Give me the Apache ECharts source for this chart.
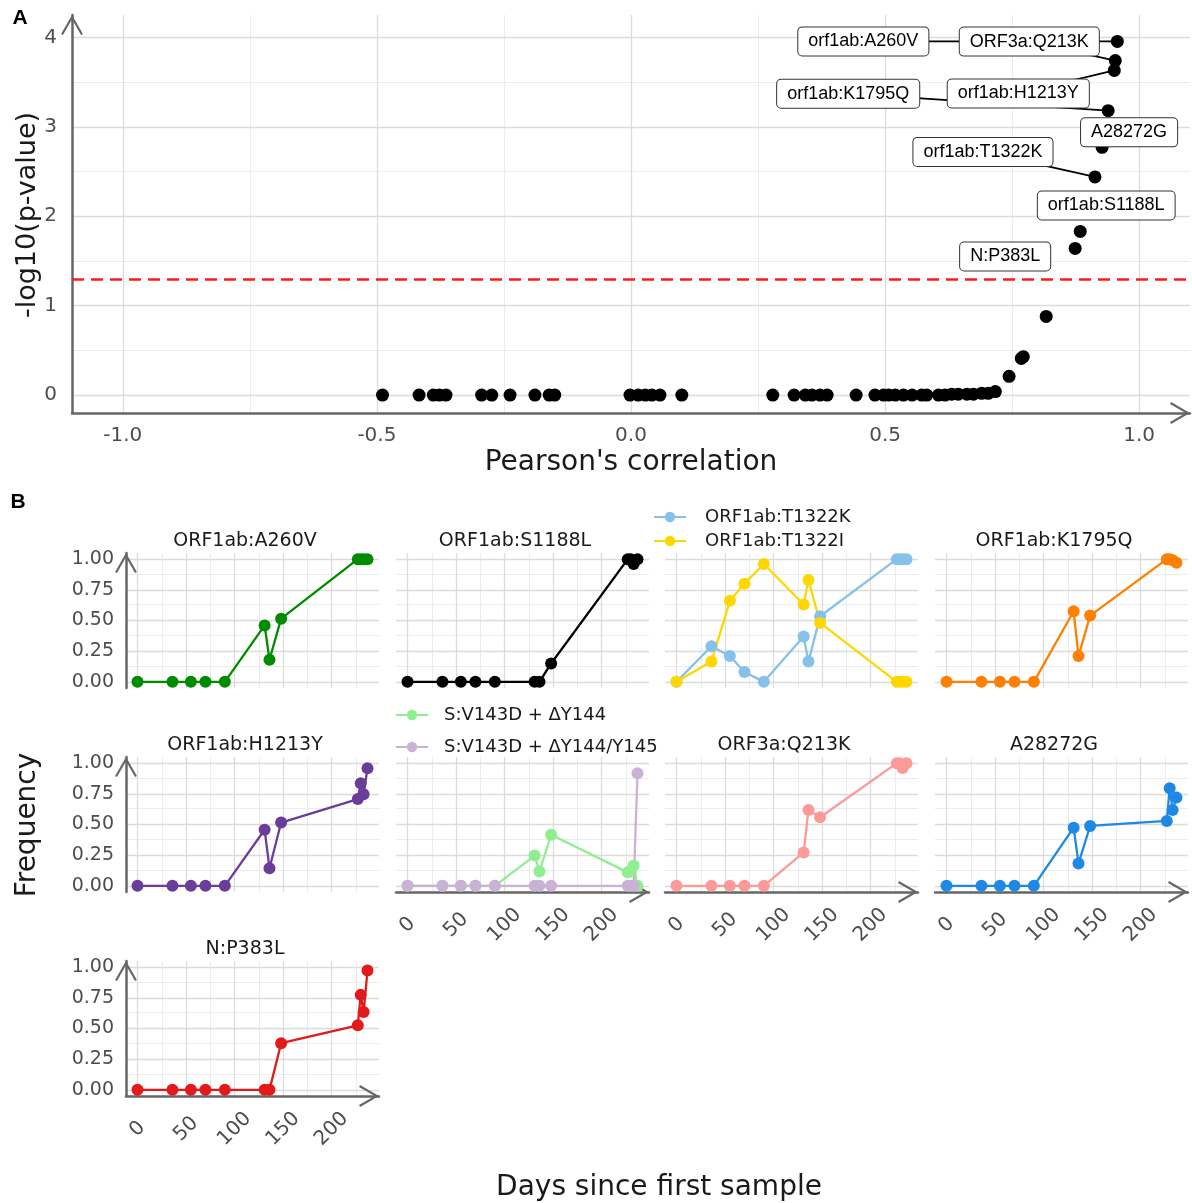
<!DOCTYPE html>
<html>
<head>
<meta charset="utf-8">
<script src="https://cdn.jsdelivr.net/npm/echarts@6/dist/echarts.min.js"></script>
<style>
  html, body { margin: 0; padding: 0; background: #ffffff; }
  #main { width: 1192px; height: 1203px; }
</style>
</head>
<body>
<div id="main"></div>
<script>
// ---------------- Panel A: correlation of frequency with time ----------------
// Mutations that stay below the significance threshold
const backgroundR = [
  -0.489, -0.417, -0.389, -0.377, -0.364, -0.294, -0.274, -0.238, -0.189, -0.161, -0.150,
  -0.002, 0.014, 0.028, 0.041, 0.057, 0.100,
  0.279, 0.321, 0.343, 0.356, 0.372, 0.386, 0.443, 0.480, 0.497, 0.507, 0.520, 0.536, 0.553, 0.572, 0.582,
  0.605, 0.618, 0.631, 0.644, 0.661, 0.674, 0.690, 0.703, 0.717, 0.744, 0.768, 0.772, 0.817
];
const backgroundLogP = [
  0, 0, 0, 0, 0, 0, 0, 0, 0, 0, 0,
  0, 0, 0, 0, 0, 0,
  0, 0, 0, 0, 0, 0, 0, 0, 0, 0, 0, 0, 0, 0, 0,
  0, 0, 0.01, 0.01, 0.01, 0.01, 0.02, 0.02, 0.04, 0.21, 0.41, 0.43, 0.88
];
// Significant mutations (labelled)
const sigNames = ['orf1ab:A260V', 'ORF3a:Q213K', 'orf1ab:H1213Y', 'orf1ab:K1795Q',
                  'A28272G', 'orf1ab:T1322K', 'orf1ab:S1188L', 'N:P383L'];
const sigR = [0.957, 0.953, 0.951, 0.939, 0.927, 0.913, 0.884, 0.874];
const sigLogP = [3.955, 3.74, 3.63, 3.18, 2.77, 2.44, 1.83, 1.64];
const pThreshold = 0.05;
const corrTicks = [-1, -0.5, 0, 0.5, 1];
const logPTicks = [0, 1, 2, 3, 4];

// ---------------- Panel B: frequency trajectories ----------------
const sampleDays = [0, 36, 55, 70, 90, 131, 136, 148, 227, 230, 233, 237];
const freqA260V     = [0, 0, 0, 0, 0, 0.46, 0.18, 0.515, 1, 1, 1, 1];
const freqS1188L    = [0, 0, 0, 0, 0, 0, 0, 0.15, 1, 1, 0.96, 1];
const freqT1322K    = [0, 0.29, 0.21, 0.08, 0, 0.37, 0.165, 0.535, 1, 1, 1, 1];
const freqT1322I    = [0, 0.165, 0.66, 0.80, 0.96, 0.63, 0.83, 0.48, 0, 0, 0, 0];
const freqK1795Q    = [0, 0, 0, 0, 0, 0.575, 0.21, 0.54, 1, 1, 0.99, 0.97];
const freqH1213Y    = [0, 0, 0, 0, 0, 0.457, 0.144, 0.516, 0.707, 0.837, 0.747, 0.959];
const freqDelY144   = [0, 0, 0, 0, 0, 0.247, 0.117, 0.416, 0.11, 0.12, 0.165, 0];
const freqDelY144Y145 = [0, 0, 0, 0, 0, 0, 0, 0, 0, 0, 0, 0.918];
const freqQ213K     = [0, 0, 0, 0, 0, 0.272, 0.619, 0.559, 1, 1, 0.96, 1];
const freqA28272G   = [0, 0, 0, 0, 0, 0.474, 0.183, 0.488, 0.529, 0.796, 0.619, 0.719];
const freqP383L     = [0, 0, 0, 0, 0, 0, 0, 0.38, 0.526, 0.774, 0.634, 0.972];
const dayTicks = [0, 50, 100, 150, 200];
const dayMinorTicks = [25, 75, 125, 175, 225];
const freqTicks = [0, 0.25, 0.5, 0.75, 1];
const freqMinorTicks = [0.125, 0.375, 0.625, 0.875];

// Facet contents: title, and the series drawn in each panel
const facets = [
  { title: 'ORF1ab:A260V',  lines: [['ORF1ab:A260V', freqA260V]] },
  { title: 'ORF1ab:S1188L', lines: [['ORF1ab:S1188L', freqS1188L]] },
  { title: null,            lines: [['ORF1ab:T1322K', freqT1322K], ['ORF1ab:T1322I', freqT1322I]] },
  { title: 'ORF1ab:K1795Q', lines: [['ORF1ab:K1795Q', freqK1795Q]] },
  { title: 'ORF1ab:H1213Y', lines: [['ORF1ab:H1213Y', freqH1213Y]] },
  { title: null,            lines: [['S:V143D + \u0394Y144', freqDelY144], ['S:V143D + \u0394Y144/Y145', freqDelY144Y145]] },
  { title: 'ORF3a:Q213K',   lines: [['ORF3a:Q213K', freqQ213K]] },
  { title: 'A28272G',       lines: [['A28272G', freqA28272G]] },
  { title: 'N:P383L',       lines: [['N:P383L', freqP383L]] }
];

// ---------------- styling ----------------
const lineColors = {
  'ORF1ab:A260V': '#008B00',
  'ORF1ab:S1188L': '#000000',
  'ORF1ab:T1322K': '#85C1E9',
  'ORF1ab:T1322I': '#FFD700',
  'ORF1ab:K1795Q': '#FF7F00',
  'ORF1ab:H1213Y': '#6A3D9A',
  'S:V143D + \u0394Y144': '#90EE90',
  'S:V143D + \u0394Y144/Y145': '#CAB2D6',
  'ORF3a:Q213K': '#FB9A99',
  'A28272G': '#1E88E5',
  'N:P383L': '#E31A1C'
};
// label box offsets from their points (px) and whether a leader segment is drawn
const labelOffsets = {
  'orf1ab:A260V': [-254, 0, true],
  'ORF3a:Q213K': [-86, -19, true],
  'orf1ab:H1213Y': [-96, 23, true],
  'orf1ab:K1795Q': [-260, -17, true],
  'A28272G': [27, -15, false],
  'orf1ab:T1322K': [-112, -25, true],
  'orf1ab:S1188L': [26, -26, false],
  'N:P383L': [-70, 8, false]
};

const FONT = '"DejaVu Sans", sans-serif';
const LABEL_FONT = '"Liberation Sans", Arial, sans-serif';
const AXIS_GREY = '#666666';
const TICK_TEXT = '#4d4d4d';
const TEXT_DARK = '#1a1a1a';
const GRID_MAJOR = '#dcdcdc';
const GRID_MINOR = '#ececec';
// open chevron (30 degree arms) used as the axis arrow head, pointing up
const CHEVRON = 'path://M13.13,0 L26.26,22.76 L24,24.06 L13.13,5.22 L2.26,24.06 L0,22.76 Z';

const colLeft = [126, 396, 665, 935];
const rowTop = [553, 757, 961];
const PANEL_W = 253, PANEL_H = 135;
const facetPos = [[0, 0], [0, 1], [0, 2], [0, 3], [1, 0], [1, 1], [1, 2], [1, 3], [2, 0]];
const showXAxis = [false, false, false, false, false, true, true, true, true];

function expand(lo, hi, frac) {
  const pad = (hi - lo) * frac;
  return [lo - pad, hi + pad];
}
const dayRange = expand(Math.min(...sampleDays), Math.max(...sampleDays), 0.05);
const freqRange = expand(0, 1, 0.05);

function gridLineData(xMajor, xMinor, yMajor, yMinor) {
  const out = [];
  xMinor.forEach(v => out.push({ xAxis: v, lineStyle: { color: GRID_MINOR, width: 1 } }));
  yMinor.forEach(v => out.push({ yAxis: v, lineStyle: { color: GRID_MINOR, width: 1 } }));
  xMajor.forEach(v => out.push({ xAxis: v, lineStyle: { color: GRID_MAJOR, width: 1.3 } }));
  yMajor.forEach(v => out.push({ yAxis: v, lineStyle: { color: GRID_MAJOR, width: 1.3 } }));
  return out;
}
function gridSeries(idx, data) {
  return {
    type: 'scatter', xAxisIndex: idx, yAxisIndex: idx, data: [], z: 0, silent: true,
    markLine: {
      z: 0, silent: true, symbol: ['none', 'none'], label: { show: false },
      lineStyle: { type: 'solid' }, emphasis: { disabled: true }, animation: false,
      data: data
    }
  };
}
function axisLineStyle(show) {
  return {
    show: show, onZero: false,
    symbol: ['none', CHEVRON], symbolSize: [22, 20], symbolOffset: [0, -10],
    lineStyle: { color: AXIS_GREY, width: 2.5 }
  };
}

const option = {
  animation: false,
  backgroundColor: '#ffffff',
  textStyle: { fontFamily: FONT },
  grid: [], xAxis: [], yAxis: [], series: [], legend: [], graphic: []
};

// ---- Panel A ----
option.grid.push({ left: 72, top: 15, width: 1118, height: 398 });
option.xAxis.push({
  type: 'value', gridIndex: 0, min: -1.1, max: 1.1,
  axisLine: axisLineStyle(true),
  axisTick: { show: false }, splitLine: { show: false },
  axisLabel: { customValues: corrTicks, formatter: v => v.toFixed(1), fontSize: 20, color: TICK_TEXT, margin: 13, fontFamily: FONT },
  name: "Pearson's correlation", nameLocation: 'middle', nameGap: 36,
  nameTextStyle: { fontSize: 28, color: TEXT_DARK, fontFamily: FONT }
});
option.yAxis.push({
  type: 'value', gridIndex: 0, min: -0.2, max: 4.25,
  axisLine: axisLineStyle(true),
  axisTick: { show: false }, splitLine: { show: false },
  axisLabel: { customValues: logPTicks, formatter: v => String(v), fontSize: 20, color: TICK_TEXT, margin: 15, fontFamily: FONT }
});
option.series.push(gridSeries(0, gridLineData(
  corrTicks, [-0.75, -0.25, 0.25, 0.75], logPTicks, [0.5, 1.5, 2.5, 3.5])));
option.series.push({
  name: 'background', type: 'scatter', xAxisIndex: 0, yAxisIndex: 0, z: 3,
  symbolSize: 13, itemStyle: { color: '#000000', opacity: 1 },
  data: backgroundR.map((r, i) => [r, backgroundLogP[i]]),
  markLine: {
    z: 1, silent: true, symbol: ['none', 'none'], label: { show: false }, animation: false,
    data: [{ yAxis: -Math.log10(pThreshold), lineStyle: { color: '#ff1a1a', type: [12, 7], width: 2.5 } }]
  }
});
// leader segments from each labelled point to its label box (boxes are drawn on top)
option.series.push({
  type: 'custom', xAxisIndex: 0, yAxisIndex: 0, z: 2, silent: true,
  encode: { x: 0, y: 1 },
  data: sigR.map((r, i) => [r, sigLogP[i], i]),
  renderItem: (params, api) => {
    const o = labelOffsets[sigNames[api.value(2)]];
    const p = api.coord([api.value(0), api.value(1)]);
    if (!o[2]) return { type: 'group', children: [] };
    return {
      type: 'line',
      shape: { x1: p[0], y1: p[1], x2: p[0] + o[0], y2: p[1] + o[1] },
      style: { stroke: '#000000', lineWidth: 1.8 }
    };
  }
});
option.series.push({
  name: 'significant', type: 'scatter', xAxisIndex: 0, yAxisIndex: 0, z: 4,
  symbolSize: 13, itemStyle: { color: '#000000', opacity: 1 },
  data: sigR.map((r, i) => ({ value: [r, sigLogP[i]], name: sigNames[i] })),
  label: {
    show: true, position: 'inside', formatter: p => p.name,
    fontFamily: LABEL_FONT, fontSize: 18, color: '#000000',
    textBorderWidth: 0, textShadowBlur: 0,
    backgroundColor: '#ffffff', borderColor: '#333333', borderWidth: 1, borderRadius: 4,
    padding: [5, 10]
  },
  labelLine: { show: false },
  labelLayout: p => {
    const o = labelOffsets[sigNames[p.dataIndex]];
    return { dx: o[0], dy: o[1] };
  }
});

// ---- Panel B ----
facets.forEach((f, i) => {
  const gi = i + 1;
  const row = facetPos[i][0], col = facetPos[i][1];
  const left = colLeft[col], top = rowTop[row];
  option.grid.push({ left: left, top: top, width: PANEL_W, height: PANEL_H });
  option.xAxis.push({
    type: 'value', gridIndex: gi, min: dayRange[0], max: dayRange[1],
    axisLine: axisLineStyle(showXAxis[i]),
    axisTick: { show: false }, splitLine: { show: false },
    axisLabel: {
      show: showXAxis[i], customValues: dayTicks, formatter: v => String(v),
      rotate: 45, align: 'center', verticalAlign: 'middle',
      fontSize: 20, color: TICK_TEXT, margin: 33, fontFamily: FONT
    }
  });
  option.yAxis.push({
    type: 'value', gridIndex: gi, min: freqRange[0], max: freqRange[1],
    axisLine: axisLineStyle(col === 0),
    axisTick: { show: false }, splitLine: { show: false },
    axisLabel: {
      show: col === 0, customValues: freqTicks, formatter: v => v.toFixed(2),
      fontSize: 19, color: TICK_TEXT, margin: 12, fontFamily: FONT
    }
  });
  option.series.push(gridSeries(gi, gridLineData(dayTicks, dayMinorTicks, freqTicks, freqMinorTicks)));
  f.lines.forEach(([name, values]) => {
    option.series.push({
      name: name, type: 'line', xAxisIndex: gi, yAxisIndex: gi, z: 3,
      symbol: 'circle', symbolSize: 12, showSymbol: true,
      color: lineColors[name],
      lineStyle: { width: 2.3, color: lineColors[name] },
      itemStyle: { color: lineColors[name], opacity: 1 },
      data: sampleDays.map((d, k) => [d, values[k]])
    });
  });
  if (f.title) {
    option.graphic.push({
      type: 'text', x: left + 119, y: top - 12, silent: true,
      style: { text: f.title, fill: TEXT_DARK, font: '19px ' + FONT, textAlign: 'center', textVerticalAlign: 'middle' }
    });
  }
});

// legends replacing the strip titles of the two-series panels
option.legend.push({
  data: ['ORF1ab:T1322K', 'ORF1ab:T1322I'], orient: 'vertical', left: 648, top: 503,
  itemWidth: 32, itemHeight: 13, itemGap: 6, selectedMode: false,
  textStyle: { fontSize: 18, color: TEXT_DARK, fontFamily: FONT, padding: [0, 0, 0, 14] }
});
option.legend.push({
  data: ['S:V143D + \u0394Y144', 'S:V143D + \u0394Y144/Y145'], orient: 'vertical', left: 390, top: 701,
  itemWidth: 32, itemHeight: 13, itemGap: 14, selectedMode: false,
  textStyle: { fontSize: 18, color: TEXT_DARK, fontFamily: FONT, padding: [0, 0, 0, 11] }
});

// panel tags and shared axis titles
option.graphic.push(
  { type: 'text', x: 20, y: 18, silent: true,
    style: { text: 'A', fill: '#000000', font: 'bold 21px ' + LABEL_FONT, textAlign: 'center', textVerticalAlign: 'middle' } },
  { type: 'text', x: 18, y: 502, silent: true,
    style: { text: 'B', fill: '#000000', font: 'bold 21px ' + LABEL_FONT, textAlign: 'center', textVerticalAlign: 'middle' } },
  { type: 'text', x: 28, y: 215, rotation: Math.PI / 2, silent: true,
    style: { text: '-log10(p-value)', fill: TEXT_DARK, font: '27px ' + FONT, textAlign: 'center', textVerticalAlign: 'middle' } },
  { type: 'text', x: 28, y: 825, rotation: Math.PI / 2, silent: true,
    style: { text: 'Frequency', fill: TEXT_DARK, font: '28px ' + FONT, textAlign: 'center', textVerticalAlign: 'middle' } },
  { type: 'text', x: 659, y: 1188, silent: true,
    style: { text: 'Days since first sample', fill: TEXT_DARK, font: '28px ' + FONT, textAlign: 'center', textVerticalAlign: 'middle' } }
);

const chart = echarts.init(document.getElementById('main'), null, { renderer: 'canvas' });
chart.setOption(option);
</script>
</body>
</html>
